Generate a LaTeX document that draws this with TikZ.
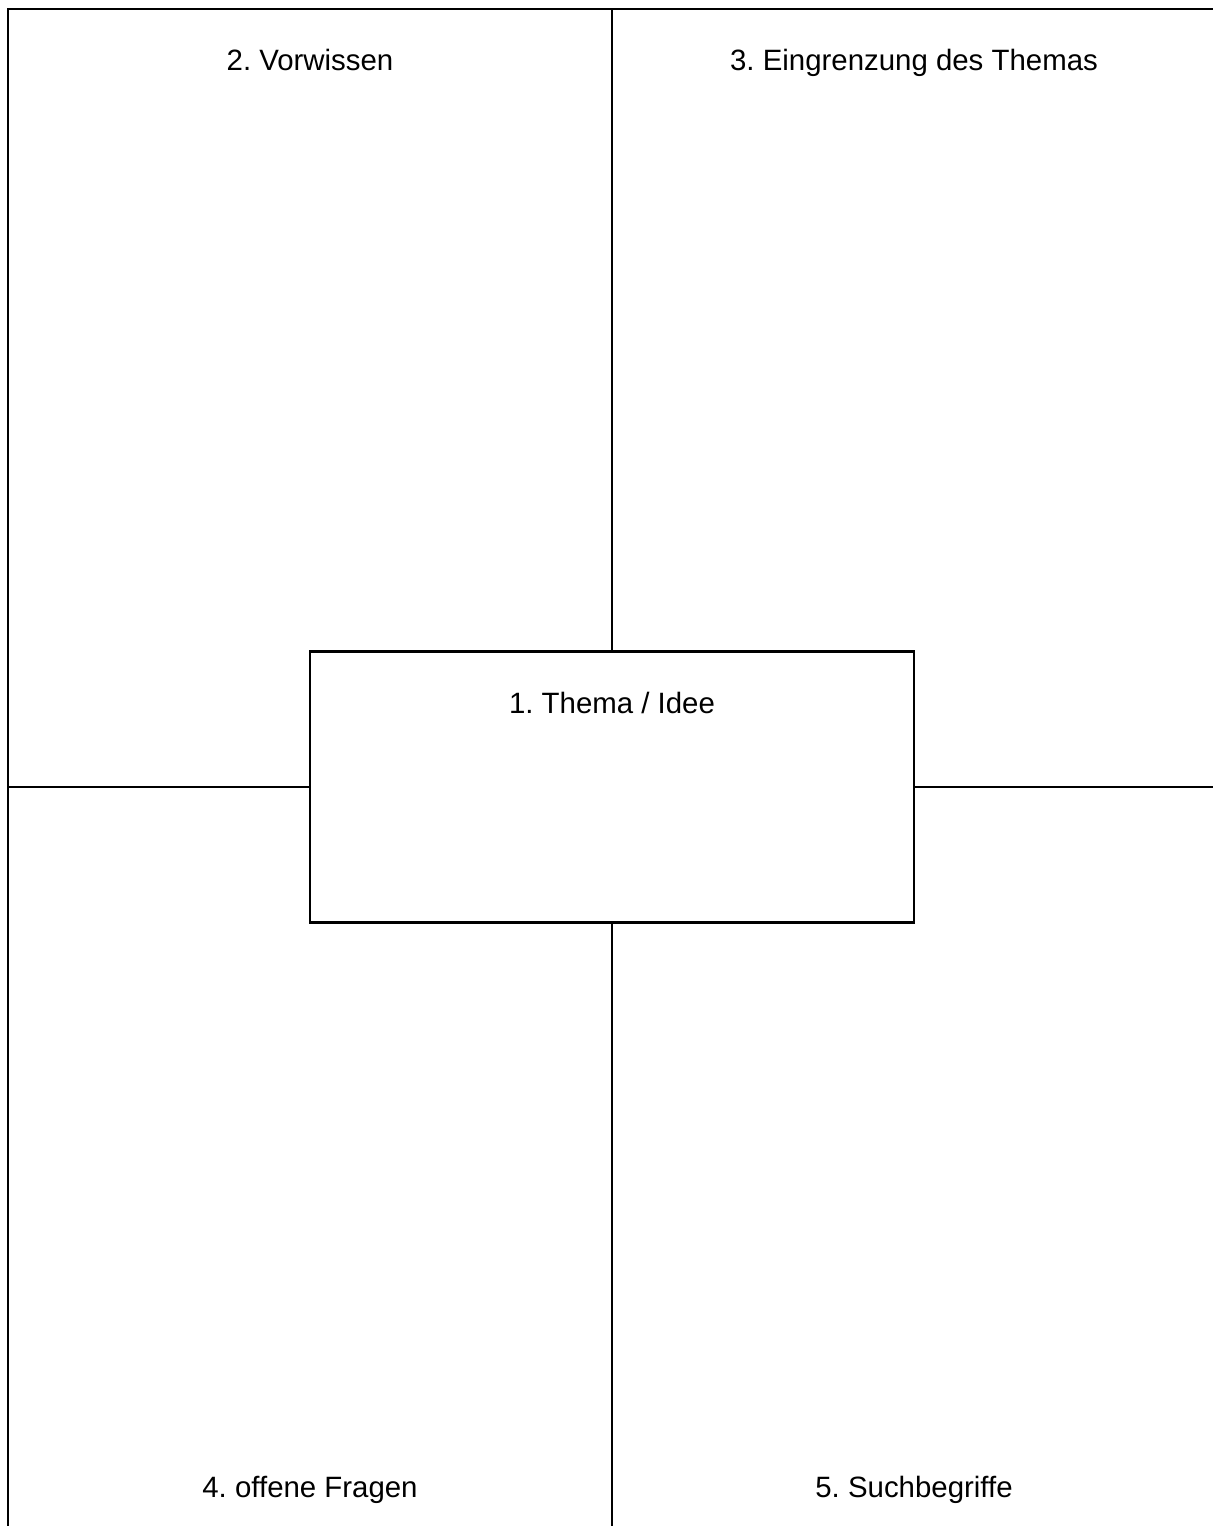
\documentclass[tikz,border=0pt]{standalone}
\usepackage{fontspec}
\setmainfont{Liberation Sans}
\frenchspacing
\begin{document}
\begin{tikzpicture}[
    x=0.5pt, y=-0.5pt,
    every node/.style={font=\fontsize{14.7}{17}\selectfont},
    frame/.style={line width=1.1pt},
    themebox/.style={rectangle, draw, line width=1.1pt, minimum width=302pt, minimum height=135.5pt, inner sep=0pt},
    heading/.style={inner sep=0pt, anchor=base}
]
    \useasboundingbox (0, 0) rectangle (1213, 1526);

% -------------------------
% Coordinates of the frame
% -------------------------
    \coordinate (topLeft) at (8, 9);
    \coordinate (topMid) at (612, 9);
    \coordinate (topRight) at (1213, 9);
    \coordinate (botLeft) at (8, 1526);
    \coordinate (botMid) at (612, 1526);
    \coordinate (midLeft) at (8, 787);
    \coordinate (midRight) at (1213, 787);

% -------------------------
% Centre box
% -------------------------
    \node[themebox] (theme) at (612, 787) {};
    \node[heading] (themeText) at (612, 713) {1. Thema / Idee};

% -------------------------
% Headings
% -------------------------
    \node[heading] (prior) at (310, 70) {2. Vorwissen};
    \node[heading] (scope) at (914, 70) {3. Eingrenzung des Themas};
    \node[heading] (questions) at (310, 1497) {4. offene Fragen};
    \node[heading] (keywords) at (914, 1497) {5. Suchbegriffe};

% -------------------------
% Frame & Dividers
% -------------------------
    \draw[frame] (botLeft) -- (topLeft) -- (topRight);
    \draw[frame] (topMid) -- (theme.north);
    \draw[frame] (theme.south) -- (botMid);
    \draw[frame] (midLeft) -- (theme.west);
    \draw[frame] (theme.east) -- (midRight);
\end{tikzpicture}
\end{document}
